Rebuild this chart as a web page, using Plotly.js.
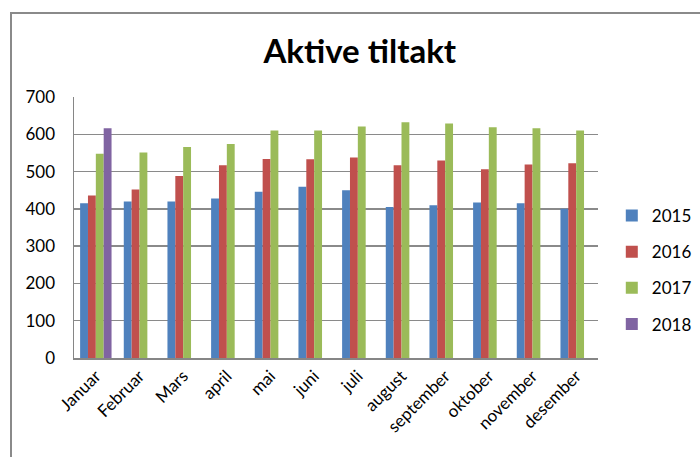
<!DOCTYPE html>
<html>
<head>
<meta charset="utf-8">
<script src="https://cdn.plot.ly/plotly-3.0.1.min.js"></script>
<style>
  html, body { margin: 0; padding: 0; background: #fff; }
  #wrap { position: relative; width: 700px; height: 457px; overflow: hidden; }
  #chart { position: absolute; left: 0; top: 0; width: 700px; height: 457px; }
  #frame { position: absolute; left: 10px; top: 12px; width: 700px; height: 460px;
           border-left: 2px solid #8a8a8a; border-top: 2px solid #8a8a8a; pointer-events: none; }
</style>
</head>
<body>
<div id="wrap">
  <div id="chart"></div>
  <div id="frame"></div>
</div>
<script>
const months = ["Januar","Februar","Mars","april","mai","juni","juli","august","september","oktober","november","desember"];
const y2015 = [415, 420, 420, 428, 446, 459, 450, 405, 410, 417, 415, 400];
const y2016 = [436, 452, 488, 517, 534, 533, 538, 517, 530, 506, 519, 522];
const y2017 = [548, 551, 566, 574, 610, 610, 621, 632, 629, 619, 616, 610];
const y2018 = [616, null, null, null, null, null, null, null, null, null, null, null];
const seriesNames = ["2015", "2016", "2017", "2018"];
const colors = ["#4F81BD", "#C0504D", "#9BBB59", "#8064A2"];
const yTicks = [0, 100, 200, 300, 400, 500, 600, 700];

const allY = [y2015, y2016, y2017, y2018];
const traces = allY.map((ys, i) => ({
  type: "bar",
  name: seriesNames[i],
  x: months,
  y: ys,
  marker: { color: colors[i] },
  legendgroup: "g" + i
}));

const font = "Lato, 'Open Sans', sans-serif";
const layout = {
  width: 700, height: 457,
  margin: { l: 74, r: 102, t: 97, b: 99, autoexpand: false },
  paper_bgcolor: "rgba(0,0,0,0)",
  plot_bgcolor: "#fff",
  barmode: "group",
  bargap: 0.28,
  bargroupgap: 0,
  title: {
    text: "<b>Aktive tiltakt</b>",
    font: { family: font, size: 33, color: "#000" },
    x: 0.514, xanchor: "center", xref: "container",
    y: 0.887, yanchor: "middle", yref: "container"
  },
  xaxis: {
    type: "category",
    tickangle: -45,
    tickfont: { family: font, size: 17, color: "#000" },
    showline: true, linecolor: "#868686", linewidth: 1.5,
    showgrid: false, ticks: "", ticklen: 0
  },
  yaxis: {
    range: [0, 700],
    tickvals: yTicks,
    ticktext: yTicks.map(String),
    tickfont: { family: font, size: 17, color: "#000" },
    showline: true, linecolor: "#868686", linewidth: 1.5,
    showgrid: true, gridcolor: "#8a8a8a", gridwidth: 1.5,
    zeroline: false, ticks: "", ticklabelstandoff: 14
  },
  showlegend: true,
  legend: {
    xref: "container", x: 0.874, xanchor: "left",
    y: 0.337, yanchor: "middle",
    font: { family: font, size: 17, color: "#000" },
    traceorder: "grouped",
    tracegroupgap: 11,
    bgcolor: "rgba(0,0,0,0)"
  }
};

Plotly.newPlot("chart", traces, layout, { staticPlot: true, displayModeBar: false });
</script>
</body>
</html>
